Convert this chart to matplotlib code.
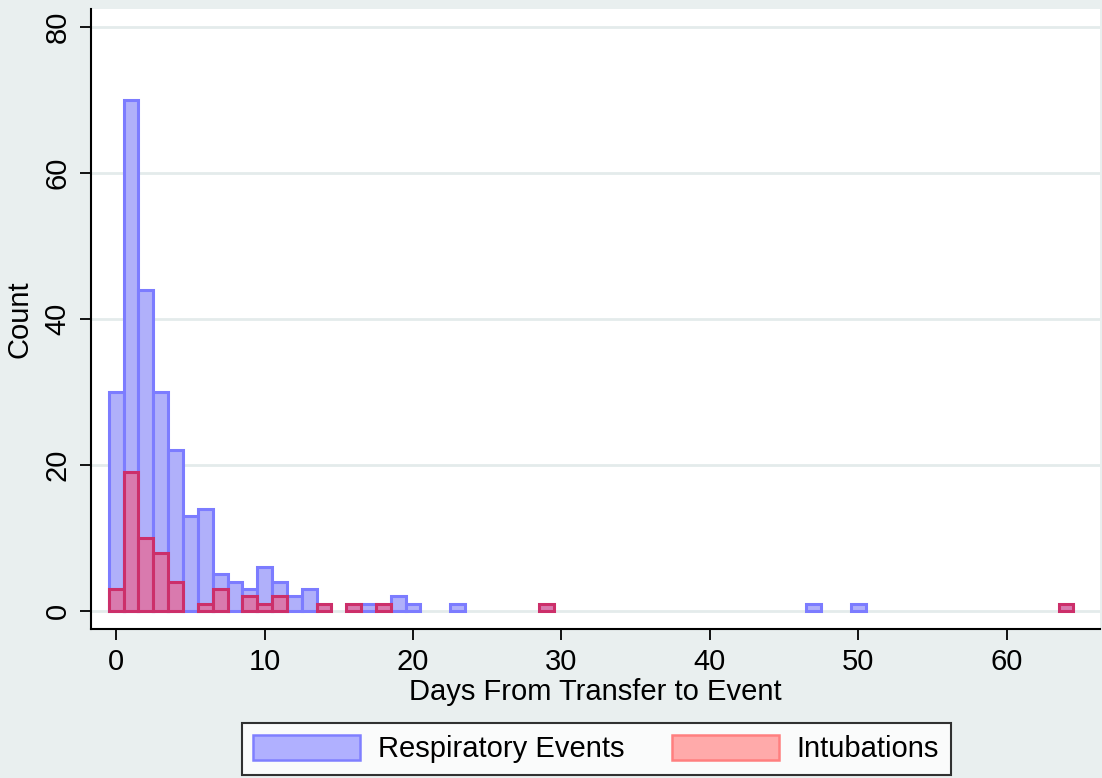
import matplotlib
matplotlib.use("Agg")
import matplotlib.pyplot as plt
from matplotlib.patches import Patch

plt.rcParams['font.family'] = ['Liberation Sans', 'DejaVu Sans']

# Data
resp_days = [0, 1, 2, 3, 4, 5, 6, 7, 8, 9, 10, 11, 12, 13, 17, 19, 20, 23, 47, 50]
resp_counts = [30, 70, 44, 30, 22, 13, 14, 5, 4, 3, 6, 4, 2, 3, 1, 2, 1, 1, 1, 1]
intub_days = [0, 1, 2, 3, 4, 6, 7, 9, 10, 11, 14, 16, 18, 29, 64]
intub_counts = [3, 19, 10, 8, 4, 1, 3, 2, 1, 2, 1, 1, 1, 1, 1]
x_ticks = [0, 10, 20, 30, 40, 50, 60]
y_ticks = [0, 20, 40, 60, 80]
series_labels = ["Respiratory Events", "Intubations"]

bg = '#E9EFEF'
fig = plt.figure(figsize=(11.02, 7.78), dpi=100, facecolor=bg)
ax = fig.add_axes([91/1102, 1 - 629/778, (1100-91)/1102, (629-9)/778])
ax.set_facecolor('white')

for y in y_ticks:
    ax.axhline(y, color='#E4EBEB', lw=2, zorder=1)

ax.bar(resp_days, resp_counts, width=1, align='center',
       facecolor='#B0B0FA', edgecolor='#7C7CFF', linewidth=2.2, zorder=2)
ax.bar(intub_days, intub_counts, width=1, align='center',
       facecolor='#D97AAE', edgecolor='#CC2F6A', linewidth=2.2, zorder=3)

ax.set_xlim(-1.70, 66.29)
ax.set_ylim(-2.47, 82.4)
ax.set_xticks(x_ticks)
ax.set_yticks(y_ticks)
ax.set_yticklabels([str(v) for v in y_ticks], rotation=90, va='center')
ax.tick_params(axis='both', direction='out', length=8, width=1.3,
               labelsize=21, color='black', pad=6)
for s in ['top', 'right']:
    ax.spines[s].set_visible(False)
for s in ['left', 'bottom']:
    ax.spines[s].set_linewidth(1.5)
    ax.spines[s].set_color('black')

ax.set_xlabel("Days From Transfer to Event", fontsize=21, labelpad=1)
ax.set_ylabel("Count", fontsize=21, labelpad=7)

handles = [Patch(facecolor='#B0B0FF', edgecolor='#7F7FFF', linewidth=1.8),
           Patch(facecolor='#FFAAAA', edgecolor='#FF7F7F', linewidth=1.8)]
leg = fig.legend(handles, series_labels, loc='lower center',
                 bbox_to_anchor=(0.541, 0.0), ncol=2, fontsize=21,
                 frameon=True, fancybox=False, edgecolor='black',
                 handlelength=3.67, handleheight=0.95, handletextpad=0.62,
                 columnspacing=1.6, borderpad=0.4, borderaxespad=0.1)
leg.get_frame().set_linewidth(1.5)
leg.get_frame().set_facecolor('white')

fig.savefig('out.png', dpi=100, facecolor=bg)
